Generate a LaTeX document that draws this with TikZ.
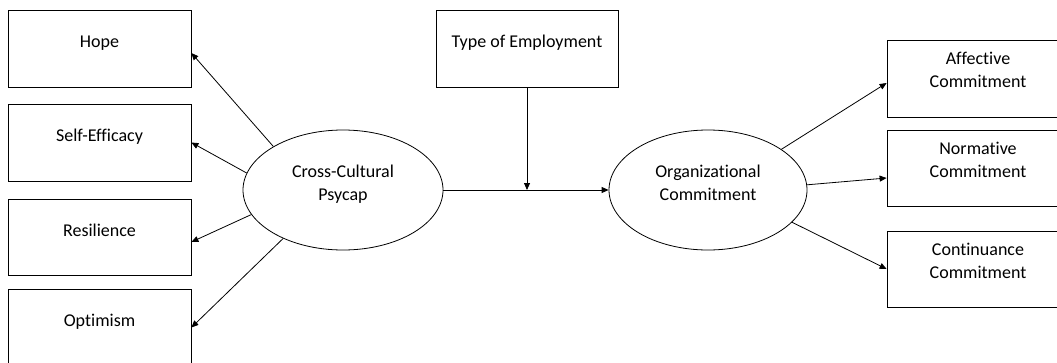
\documentclass[tikz,border=0pt]{standalone}
\usepackage{fontspec}
\setmainfont{Carlito}[Ligatures=NoCommon]
\usetikzlibrary{arrows.meta,shapes.geometric}

\begin{document}
\begin{tikzpicture}[x=1pt,y=-1pt,->,>={Triangle[length=7pt,width=6pt]},line width=0.8pt,
  every node/.style={font=\fontsize{18}{22.5}\selectfont, inner sep=0pt},
  box/.style={draw, rectangle, minimum width=183pt, minimum height=77pt, text height=37pt, text depth=40pt},
  twobox/.style={draw, rectangle, minimum width=182pt, minimum height=77pt, align=center, text height=47pt, text depth=30pt},
  oval/.style={draw, ellipse, minimum width=200pt, minimum height=120pt, align=center, text height=40pt, text depth=20pt}]
  \useasboundingbox (0,0) rectangle (1057,362);
  \node[box] (hope) at (99.5,48.5) {Hope};
  \node[box] (self) at (99.5,142.5) {Self-Efficacy};
  \node[box, minimum height=76pt, text depth=39pt] (res) at (99.5,237) {Resilience};
  \node[box] (opt) at (99.5,327.5) {Optimism};
  \node[box, minimum width=182pt] (type) at (527,48.5) {Type of Employment};
  \node[oval] (psy) at (343,190) {Cross-Cultural\\Psycap};
  \node[oval, minimum width=198pt] (org) at (708,190) {Organizational\\Commitment};
  \node[twobox] (aff) at (978,78.5) {Affective\\Commitment};
  \node[twobox, minimum height=76pt, text depth=29pt] (norm) at (978,168) {Normative\\Commitment};
  \node[twobox, minimum height=76pt, text depth=29pt] (cont) at (978,269) {Continuance\\Commitment};
  \coordinate (mod) at (type.south |- psy.east);
  \draw (psy.148) -- ([yshift=-4.5pt]hope.east);
  \draw (psy.170) -- (self.east);
  \draw (psy.195) -- ([yshift=-5pt]res.east);
  \draw (psy.219) -- (opt.east);
  \draw (psy) -- (org);
  \draw (type) -- (mod);
  \draw (org.29) -- ([yshift=-4.5pt]aff.west);
  \draw (org.3) -- ([yshift=-10pt]norm.west);
  \draw (org.339) -- (cont.west);
\end{tikzpicture}
\end{document}
